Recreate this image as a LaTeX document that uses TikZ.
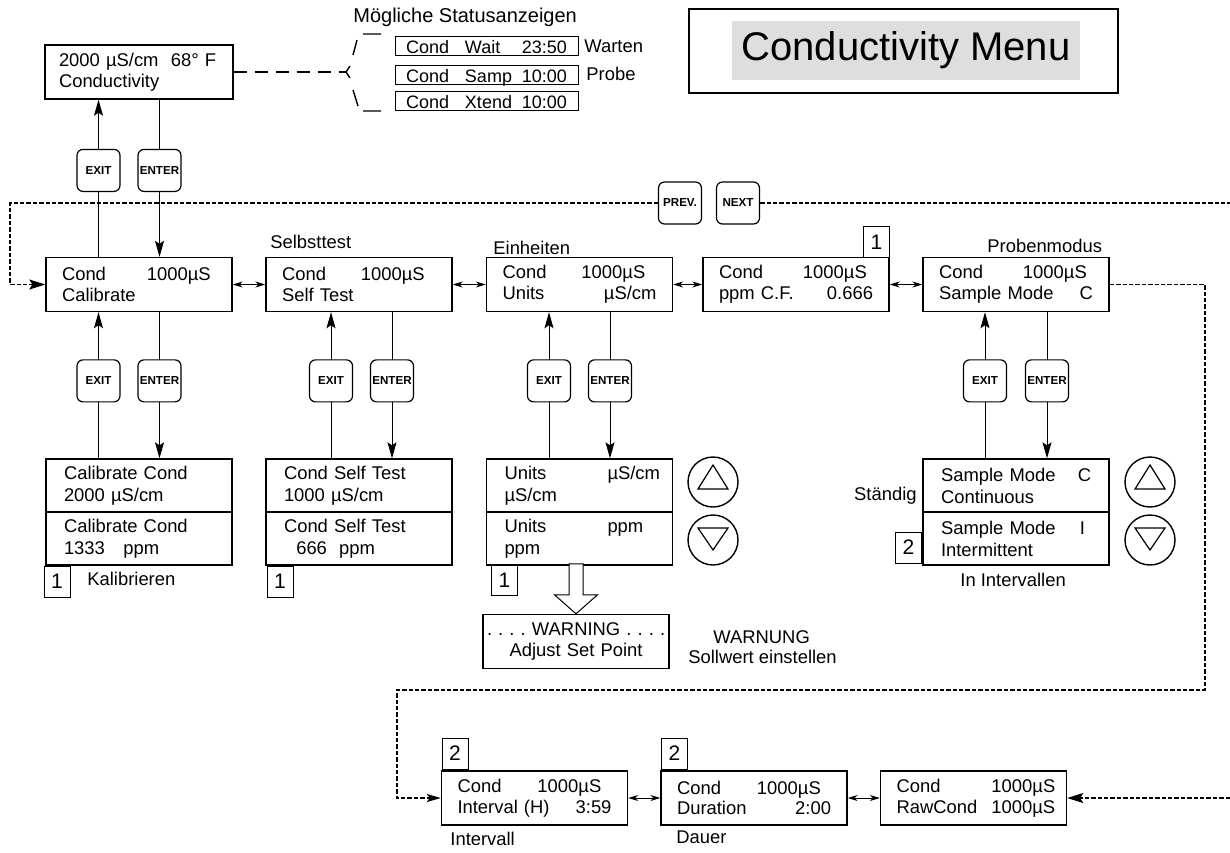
\documentclass[tikz,border=0pt]{standalone}
\usepackage{fontspec}
\setmainfont{Liberation Sans}
\usetikzlibrary{arrows.meta}
\definecolor{menugray}{HTML}{DEDEDE}
\newcommand{\lcdcol}[2]{\makebox[#1][l]{#2}}
\frenchspacing

\begin{document}
\begin{tikzpicture}[x=0.5pt, y=-0.5pt,
	lcd/.style={draw, line width=0.7pt, minimum width=93pt, minimum height=27pt, text width=77pt, inner xsep=8pt, inner ysep=0pt, align=left, font=\fontsize{9.2}{10.4}\selectfont},
	subbox/.style={lcd, minimum height=26.5pt, text width=75pt, inner xsep=9pt, font=\fontsize{9.2}{11}\selectfont},
	statbox/.style={draw, line width=0.5pt, text width=80.5pt, inner xsep=5.5pt, inner ysep=0pt, text height=8.6pt, text depth=0.9pt, align=left, font=\fontsize{9}{10}\selectfont},
	btn/.style={draw, fill=white, rounded corners=3pt, line width=0.6pt, minimum width=21.5pt, minimum height=21pt, inner sep=0pt, font=\fontsize{5.8}{6}\selectfont\bfseries},
	badge/.style={draw, line width=0.4pt, minimum width=13pt, minimum height=15.5pt, inner sep=0pt, font=\fontsize{10.5}{11}\selectfont},
	lbl/.style={inner sep=0pt, font=\fontsize{9.2}{11}\selectfont},
	flow/.style={line width=0.5pt, -{Stealth[length=8pt, width=4.5pt, inset=1.5pt]}},
	lcdlink/.style={line width=0.5pt, {Stealth[length=5pt, width=3pt]}-{Stealth[length=5pt, width=3pt]}},
	dotline/.style={line width=0.65pt, dash pattern=on 2.2pt off 1pt},
	updown/.style={circle, draw, line width=0.7pt, minimum size=25pt, inner sep=0pt},
	upkey/.style={updown, path picture={\draw[line width=0.6pt] ([yshift=8.5pt]path picture bounding box.center) -- ++(-7.5pt,-12pt) -- ++(15pt,0pt) -- cycle;}},
	downkey/.style={updown, path picture={\draw[line width=0.6pt] ([shift={(-7.5pt,6pt)}]path picture bounding box.center) -- ++(15pt,0pt) -- ++(-7.5pt,-11pt) -- cycle;}}]
	\useasboundingbox (0,0) rectangle (1230,852);

	\node[lcd, text width=80pt, inner xsep=7pt] (disp) at (139,72) {\mbox{2000 µS/cm\ \ 68° F}\\Conductivity};
	\node[lbl, anchor=base west, font=\fontsize{10}{12}\selectfont] (statlbl) at (353,22) {Mögliche Statusanzeigen};
	\node[statbox] (wait) at (486.5,45.5) {\lcdcol{29.5pt}{Cond}Wait\hfill 23:50};
	\node[statbox] (samp) at (486.5,74.5) {\lcdcol{29.5pt}{Cond}Samp\hfill 10:00};
	\node[statbox] (xtend) at (486.5,101) {\lcdcol{29.5pt}{Cond}Xtend\hfill 10:00};
	\node[lbl, anchor=base west] (warten) at (584,52) {Warten};
	\node[lbl, anchor=base west] (probe) at (586,80) {Probe};
	\coordinate (brace) at (346,72);
	\draw[line width=0.7pt] (363,34) -- (381,34) (357,40) -- (353,55) (350,66) -- (brace) -- (350,78) (353,90) -- (358,106) (363,111) -- (381,111);
	\draw[line width=0.7pt, dash pattern=on 6.5pt off 4pt] (disp.east) -- (brace);

	\node[draw, line width=0.7pt, minimum width=214.5pt, minimum height=42pt] (title) at (903.5,51) {};
	\node[fill=menugray, minimum width=174pt, minimum height=29.5pt, font=\fontsize{20}{22}\selectfont] (menu) at (906,50.5) {Conductivity Menu};

	\node[lcd] (cal) at (139,284.5) {\lcdcol{42.5pt}{Cond}1000µS\\Calibrate};
	\node[lcd] (self) at (359,284.5) {\lcdcol{39.5pt}{Cond}1000µS\\Self Test};
	\node[lcd] (units) at (579.5,284.5) {\lcdcol{39.5pt}{Cond}1000µS\\Units\hfill µS/cm};
	\node[lcd] (ppm) at (796,284.5) {\lcdcol{42pt}{Cond}1000µS\\ppm C.F.\hfill 0.666};
	\node[lcd] (mode) at (1016,284.5) {\lcdcol{42pt}{Cond}1000µS\\Sample Mode\hfill C\hspace*{2.5pt}};
	\node[lbl, anchor=base west] (selbst) at (270,248) {Selbsttest};
	\node[lbl, anchor=base west] (einh) at (493,254) {Einheiten};
	\node[lbl, anchor=base west] (probm) at (987,252) {Probenmodus};
	\node[badge] (ppmnote) at (876.5,242) {1};

	\node[subbox] (calA) at (139,485.5) {Calibrate Cond\\2000 µS/cm};
	\node[subbox] (calB) at (139,538.5) {Calibrate Cond\\1333\ \ \ ppm};
	\node[subbox] (selfA) at (359,485.5) {Cond Self Test\\1000 µS/cm};
	\node[subbox] (selfB) at (359,538.5) {Cond Self Test\\\ \ 666\ \ ppm};
	\node[subbox] (unitA) at (579.5,485.5) {\lcdcol{51.5pt}{Units}µS/cm\\µS/cm};
	\node[subbox] (unitB) at (579.5,538.5) {\lcdcol{51.5pt}{Units}ppm\\ppm};
	\node[subbox] (modeA) at (1016,485.5) {\lcdcol{68.5pt}{Sample Mode}C\\Continuous};
	\node[subbox] (modeB) at (1016,538.5) {\lcdcol{69.5pt}{Sample Mode}I\\Intermittent};
	\node[badge] (calnote) at (57,581.5) {1};
	\node[badge] (selfnote) at (280,581.5) {1};
	\node[badge] (unitnote) at (504.5,580) {1};
	\node[badge] (modenote) at (908.5,547.5) {2};
	\node[lbl, anchor=base west] (kalib) at (87,585) {Kalibrieren};
	\node[lbl, anchor=base east] (staendig) at (917,500) {Ständig};
	\node[lbl, anchor=base west] (inint) at (960,586) {In Intervallen};
	\node[upkey] (up1) at (713,482) {};
	\node[downkey] (dn1) at (713,540) {};
	\node[upkey] (up2) at (1150,482) {};
	\node[downkey] (dn2) at (1150,540) {};

	\node[lcd, align=center, text width=89pt, inner xsep=2pt] (warn) at (576,641.5) {\mbox{. . . . WARNING . . . .}\\Adjust Set Point};
	\node[lbl, anchor=base west] (warnung) at (713,643) {WARNUNG};
	\node[lbl, anchor=base west] (sollwert) at (688,663) {Sollwert einstellen};
	\draw[line width=0.5pt, fill=white] (warn.north) -- ++(-21.5,-19) -- ++(14.5,0) -- ++(0,-31) -- ++(14,0) -- ++(0,31) -- ++(14.5,0) -- cycle;

	\node[lcd] (intv) at (534.5,798) {\lcdcol{40pt}{Cond}1000µS\\Interval (H)\hfill 3:59};
	\node[lcd] (dur) at (754,798) {\lcdcol{40pt}{Cond}1000µS\\Duration\hfill 2:00\hspace*{10pt}};
	\node[lcd] (raw) at (973.5,798) {\lcdcol{47.5pt}{Cond}1000µS\\\lcdcol{47.5pt}{RawCond}1000µS};
	\node[badge] (intvnote) at (455,753.5) {2};
	\node[badge] (durnote) at (674.5,753.5) {2};
	\node[lbl, anchor=base west] (intvlbl) at (450,845) {Intervall};
	\node[lbl, anchor=base west] (durlbl) at (676,843) {Dauer};

	\draw[flow] ([xshift=-20.25pt]cal.north) -- ([xshift=-20.25pt]disp.south) node[btn, pos=0.55] (exit0) {EXIT};
	\draw[flow] ([xshift=10.25pt]disp.south) -- ([xshift=10.25pt]cal.north) node[btn, pos=0.45] (enter0) {ENTER};
	\draw[flow] ([xshift=-20.25pt]calA.north) -- ([xshift=-20.25pt]cal.south) node[btn, pos=0.53] (exit1) {EXIT};
	\draw[flow] ([xshift=10.25pt]cal.south) -- ([xshift=10.25pt]calA.north) node[btn, pos=0.47] (enter1) {ENTER};
	\draw[flow] ([xshift=-14pt]selfA.north) -- ([xshift=-14pt]self.south) node[btn, pos=0.53] (exit2) {EXIT};
	\draw[flow] ([xshift=16.5pt]self.south) -- ([xshift=16.5pt]selfA.north) node[btn, pos=0.47] (enter2) {ENTER};
	\draw[flow] ([xshift=-15.25pt]unitA.north) -- ([xshift=-15.25pt]units.south) node[btn, pos=0.53] (exit3) {EXIT};
	\draw[flow] ([xshift=15.25pt]units.south) -- ([xshift=15.25pt]unitA.north) node[btn, pos=0.47] (enter3) {ENTER};
	\draw[flow] ([xshift=-15.5pt]modeA.north) -- ([xshift=-15.5pt]mode.south) node[btn, pos=0.53] (exit4) {EXIT};
	\draw[flow] ([xshift=15.5pt]mode.south) -- ([xshift=15.5pt]modeA.north) node[btn, pos=0.47] (enter4) {ENTER};

	\draw[lcdlink] (cal.east) -- (self.west);
	\draw[lcdlink] (self.east) -- (units.west);
	\draw[lcdlink] (units.east) -- (ppm.west);
	\draw[lcdlink] (ppm.east) -- (mode.west);
	\draw[lcdlink] (intv.east) -- (dur.west);
	\draw[lcdlink] (dur.east) -- (raw.west);

	\node[btn] (prev) at (680,203) {PREV.};
	\node[btn] (next) at (738,203) {NEXT};
	\coordinate (tl) at (10,203);
	\coordinate (tr) at (1230,203);
	\coordinate (rloop) at (1205,690);
	\coordinate (lloop) at (397,690);
	\coordinate (rawin) at (1230,798);
	\draw[dotline, -{Stealth[length=8pt, width=5pt, inset=1.5pt]}] (prev.west) -- (tl) |- (cal.west);
	\draw[dotline] (next.east) -- (tr);
	\draw[dotline, -{Stealth[length=7pt, width=4pt, inset=1.5pt]}] (mode.east) -| (rloop) -- (lloop) |- (intv.west);
	\draw[dotline, -{Stealth[length=8pt, width=5pt, inset=1.5pt]}] (rawin) -- (raw.east);
\end{tikzpicture}
\end{document}
